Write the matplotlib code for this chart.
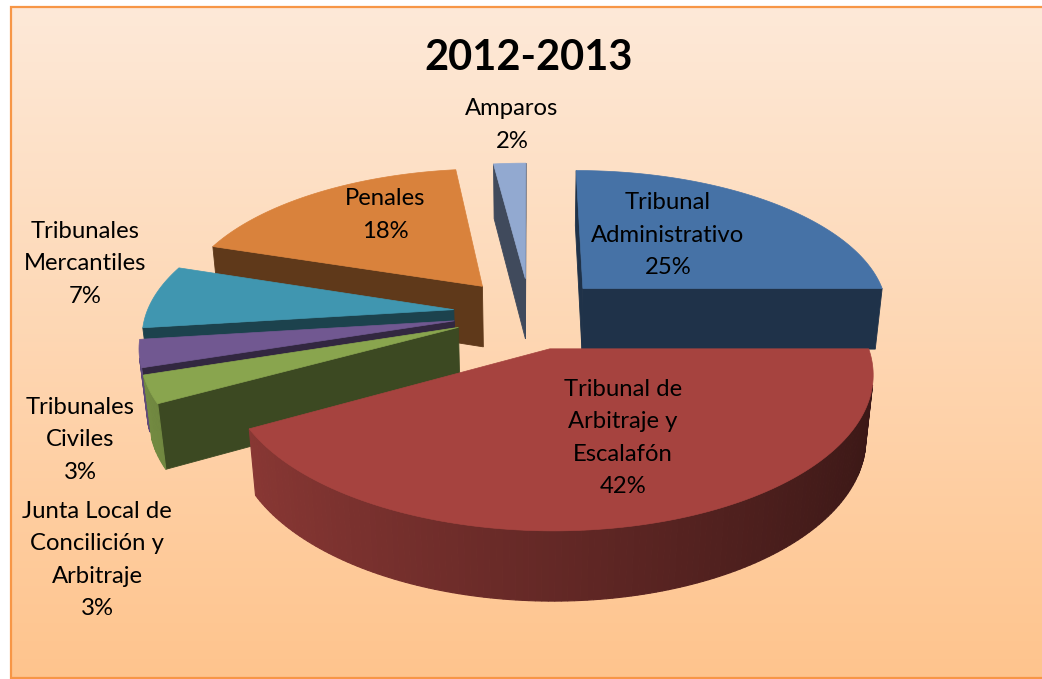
import numpy as np
import matplotlib.pyplot as plt
from matplotlib.patches import Polygon
from matplotlib.colors import to_rgb

plt.rcParams['font.family'] = ['Lato', 'DejaVu Sans']

# data
categories = ['Tribunal\nAdministrativo', 'Tribunal de\nArbitraje y\nEscalafón',
              'Junta Local de\nConcilición y\nArbitraje', 'Tribunales\nCiviles',
              'Tribunales\nMercantiles', 'Penales', 'Amparos']
percents = [25, 42, 3, 3, 7, 18, 2]
colors = ['#4672a6', '#a6433f', '#89a54e', '#715891', '#4096b0', '#d9823c', '#92a9d0']
title = '2012-2013'

# label centres (pixels)
label_pos = [(668, 235), (623, 438), (97, 560), (80, 440), (85, 264), (385, 215), (512, 125)]

# fake 3d view
ELEV = np.radians(29)
DIST = 5.8
SCALE = 294
SX = 1.045
CX, CY = 530, 313
EXPLODE = 0.25
DEPTH = 0.245

cam_c = np.array([0, -np.cos(ELEV), np.sin(ELEV)])
cam_u = np.array([0, np.sin(ELEV), np.cos(ELEV)])
cam_pos = DIST * cam_c


def project(px, py, pz):
    p = np.stack(np.broadcast_arrays(px, py, pz), axis=-1)
    s = DIST / (DIST - p @ cam_c)
    return np.column_stack([CX + SCALE * SX * p[..., 0] * s, CY - SCALE * (p @ cam_u) * s])


def shade(c, f):
    return tuple(np.array(to_rgb(c)) * f)


fig = plt.figure(figsize=(10.42, 6.79), dpi=100)
ax = fig.add_axes([0, 0, 1, 1])
ax.set_xlim(0, 1042)
ax.set_ylim(679, 0)
ax.axis('off')

# background gradient + border (left, top, bottom only; right side is cut off)
top = np.array([253, 233, 216]) / 255
bot = np.array([255, 196, 141]) / 255
g = np.linspace(0, 1, 256)[:, None, None]
grad = top * (1 - g) + bot * g
ax.imshow(grad, extent=[11, 1060, 678, 7], aspect='auto', zorder=0)
ax.plot([1070, 11, 11, 1070], [7, 7, 678, 678], color='#f79646', lw=1.6, zorder=1,
        solid_joinstyle='miter')
ax.set_xlim(0, 1042)

# slice angles, clockwise from the back
cum = np.concatenate([[0], np.cumsum(percents)]) * 3.6
slices = []
for i in range(len(percents)):
    a, b = np.radians(cum[i]), np.radians(cum[i + 1])
    m = (a + b) / 2
    ox, oy = EXPLODE * np.sin(m), EXPLODE * np.cos(m)
    key = np.array([ox + 0.5 * np.sin(m), oy + 0.5 * np.cos(m), 0]) @ cam_c
    slices.append((key, i, a, b, ox, oy))
slices.sort()

z = 2
for key, i, a, b, ox, oy in slices:
    col = colors[i]
    t = np.linspace(a, b, max(8, int(np.degrees(b - a))))
    rx, ry = ox + np.sin(t), oy + np.cos(t)
    # radial cut faces
    for ang, nrm in ((a, (-np.cos(a), np.sin(a))), (b, (np.cos(b), -np.sin(b)))):
        mid = np.array([ox + 0.5 * np.sin(ang), oy + 0.5 * np.cos(ang), -DEPTH / 2])
        if (cam_pos - mid) @ np.array([nrm[0], nrm[1], 0]) > 0:
            ex, ey = ox + np.sin(ang), oy + np.cos(ang)
            pts = project(np.array([ox, ex, ex, ox]), np.array([oy, ey, ey, oy]),
                          np.array([0, 0, -DEPTH, -DEPTH]))
            ax.add_patch(Polygon(pts, closed=True, fc=shade(col, 0.44), ec=shade(col, 0.44),
                                 lw=0.6, zorder=z))
    # outer curved side, shaded by angle
    for j in range(len(t) - 1):
        tm = (t[j] + t[j + 1]) / 2
        mid = np.array([ox + np.sin(tm), oy + np.cos(tm), -DEPTH / 2])
        if (cam_pos - mid) @ np.array([np.sin(tm), np.cos(tm), 0]) <= 0:
            continue
        xs = np.array([rx[j], rx[j + 1], rx[j + 1], rx[j]])
        ys = np.array([ry[j], ry[j + 1], ry[j + 1], ry[j]])
        pts = project(xs, ys, np.array([0, 0, -DEPTH, -DEPTH]))
        c = shade(col, 0.6 - 0.25 * np.sin(tm))
        ax.add_patch(Polygon(pts, closed=True, fc=c, ec=c, lw=0.8, zorder=z))
    # top face
    pts = project(np.concatenate([[ox], rx]), np.concatenate([[oy], ry]), 0.0)
    ax.add_patch(Polygon(pts, closed=True, fc=col, ec=col, lw=0.5, zorder=z + 1))
    z += 2

for i, (lab, p) in enumerate(zip(categories, percents)):
    x, y = label_pos[i]
    ax.text(x, y, f'{lab}\n{p}%', ha='center', va='center', fontsize=17.2,
            linespacing=1.65, color='black', zorder=50)

ax.text(529, 58, title, ha='center', va='center', fontsize=30, fontweight='bold', zorder=50)

fig.savefig('out.png', dpi=100)
